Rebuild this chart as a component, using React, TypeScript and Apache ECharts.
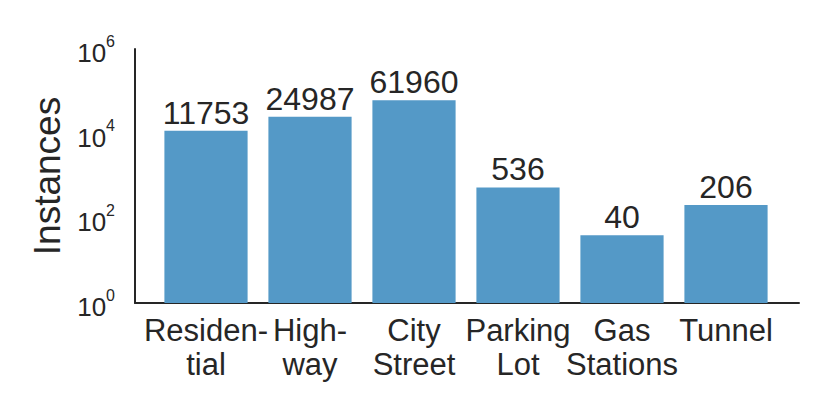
import React, { useEffect, useRef } from "react";
import * as echarts from "echarts";

const categories = ["Residen-\ntial", "High-\nway", "City\nStreet", "Parking\nLot", "Gas\nStations", "Tunnel"];
const instances = [11753, 24987, 61960, 536, 40, 206];
const yMin = 1;
const yMax = 1000000;
const labelExponents = [0, 2, 4, 6];

const FONT = "'Liberation Sans', Arial, Helvetica, sans-serif";
const TEXT = "#262626";
const BAR = "#5499c7";

export default function App() {
  const ref = useRef<HTMLDivElement>(null);
  useEffect(() => {
    if (!ref.current) return;
    const chart = echarts.init(ref.current, null, { renderer: "svg" });
    chart.setOption({
      animation: false,
      backgroundColor: "#ffffff",
      textStyle: { fontFamily: FONT, color: TEXT },
      grid: [
        { left: 146, width: 624, top: 41, height: 254 },
        { left: 127, width: 664, top: 41, height: 254 },
      ],
      xAxis: [
        {
          type: "category",
          gridIndex: 0,
          data: categories,
          axisLine: { show: false },
          axisTick: { show: false },
          axisLabel: {
            color: TEXT,
            fontFamily: FONT,
            fontSize: 31,
            lineHeight: 34,
            margin: 10,
            interval: 0,
            align: "center",
          },
        },
        {
          type: "value",
          gridIndex: 1,
          min: 0,
          max: 1,
          axisLine: { show: true, lineStyle: { color: TEXT, width: 2 } },
          axisTick: { show: false },
          axisLabel: { show: false },
          splitLine: { show: false },
        },
      ],
      yAxis: [
        {
          type: "log",
          gridIndex: 0,
          logBase: 10,
          min: yMin,
          max: yMax,
          show: false,
        },
        {
          type: "log",
          gridIndex: 1,
          logBase: 10,
          min: yMin,
          max: yMax,
          axisLine: { show: true, lineStyle: { color: TEXT, width: 2 } },
          axisTick: { show: false },
          splitLine: { show: false },
          name: "Instances",
          nameLocation: "middle",
          nameGap: 58,
          nameTextStyle: { fontFamily: FONT, fontSize: 37, color: TEXT },
          axisLabel: {
            margin: 20,
            fontSize: 26,
            fontFamily: FONT,
            color: TEXT,
            formatter: (v: number) => {
              const e = Math.round(Math.log10(v));
              if (!labelExponents.includes(e)) return "";
              return "{b|10}{s|" + e + "}";
            },
            rich: {
              b: { fontFamily: FONT, fontSize: 26, color: TEXT, lineHeight: 32, padding: [8, 0, 0, 0] },
              s: { fontFamily: FONT, fontSize: 16, color: TEXT, verticalAlign: "top", lineHeight: 32 },
            },
          },
        },
      ],
      series: [
        {
          type: "bar",
          xAxisIndex: 0,
          yAxisIndex: 0,
          data: instances,
          barCategoryGap: "20%",
          itemStyle: { color: BAR },
          label: {
            show: true,
            position: "top",
            distance: 2,
            fontFamily: FONT,
            fontSize: 32,
            color: TEXT,
          },
        },
      ],
    });
    return () => chart.dispose();
  }, []);
  return <div ref={ref} style={{ width: 814, height: 399 }} />;
}
